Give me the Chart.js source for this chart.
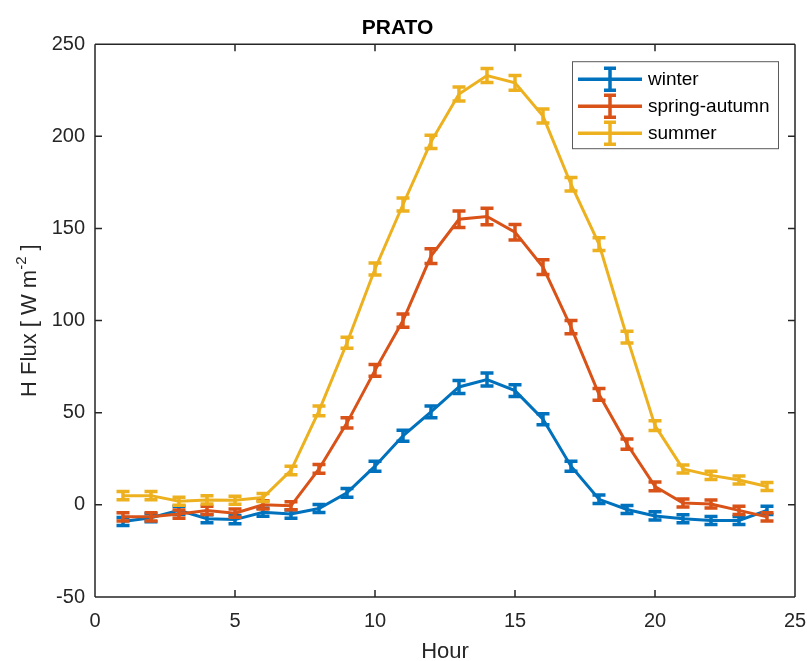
<!DOCTYPE html>
<html>
<head>
<meta charset="utf-8">
<script src="https://cdn.jsdelivr.net/npm/chart.js@4.4.0/dist/chart.umd.min.js"></script>
<style>
  html, body { margin: 0; padding: 0; background: #fff; }
  #wrap { width: 807px; height: 661px; }
</style>
</head>
<body>
<div id="wrap"><canvas id="chart" width="807" height="661"></canvas></div>
<script>
const FONT = '"Liberation Sans", Arial, Helvetica, sans-serif';
const INK = "#262626";

const hours = [1, 2, 3, 4, 5, 6, 7, 8, 9, 10, 11, 12, 13, 14, 15, 16, 17, 18, 19, 20, 21, 22, 23, 24];
const xTicks = [0, 5, 10, 15, 20, 25];
const yTicks = [-50, 0, 50, 100, 150, 200, 250];

const winter = [-9, -7, -3, -7.5, -8, -4, -5, -2, 6.5, 21, 37.5, 50.5, 64, 68, 62, 46.5, 21, 3, -2.5, -6, -7.5, -8.5, -8.5, -3];
const winterErr = [2.2, 2.2, 2.2, 2.2, 2.2, 2.2, 2.2, 2.2, 2.4, 2.7, 3, 3.2, 3.5, 3.5, 3.2, 3, 2.7, 2.3, 2.2, 2.2, 2.2, 2.2, 2.2, 2.2];

const spring = [-6.5, -6.5, -5, -3, -4.5, 0, -0.5, 19.5, 44.5, 73, 100, 135, 155, 156.5, 148, 129, 96.5, 60, 33, 10, 1, 0.5, -3, -6.5];
const springErr = [2.2, 2.2, 2.2, 2.2, 2.2, 2.2, 2.2, 2.4, 2.8, 3.2, 3.6, 4, 4.5, 4.5, 4.2, 4, 3.6, 3.2, 2.8, 2.4, 2.2, 2.2, 2.2, 2.2];

const summer = [5, 5, 2, 2.7, 2.5, 4, 18.7, 51, 88, 128, 163, 197, 223, 233, 229, 211, 174, 141.5, 91, 43, 19.5, 16, 13.5, 10];
const summerErr = [2.2, 2.2, 2.2, 2.2, 2.2, 2.2, 2.3, 2.6, 3, 3.2, 3.5, 3.6, 3.8, 3.8, 4, 3.8, 3.6, 3.5, 3.2, 2.7, 2.2, 2.2, 2.2, 2.2];

const series = [
  { label: "winter", values: winter, errors: winterErr, color: "#0072BD", order: 3 },
  { label: "spring-autumn", values: spring, errors: springErr, color: "#D95319", order: 2 },
  { label: "summer", values: summer, errors: summerErr, color: "#EDB120", order: 1 },
];

// vertical error bars with caps, drawn right after each line so stacking matches
const errorBars = {
  id: "errorBars",
  afterDatasetDraw(chart, args) {
    const ds = chart.data.datasets[args.index];
    const ys = chart.scales.y;
    const ctx = chart.ctx;
    ctx.save();
    ctx.strokeStyle = ds.borderColor;
    ctx.lineWidth = 3.5;
    args.meta.data.forEach((pt, i) => {
      const v = ds.data[i].y;
      const e = ds.errors[i];
      const top = ys.getPixelForValue(v + e);
      const bot = ys.getPixelForValue(v - e);
      ctx.beginPath();
      ctx.moveTo(pt.x, top); ctx.lineTo(pt.x, bot);
      ctx.moveTo(pt.x - 6.5, top); ctx.lineTo(pt.x + 6.5, top);
      ctx.moveTo(pt.x - 6.5, bot); ctx.lineTo(pt.x + 6.5, bot);
      ctx.stroke();
    });
    ctx.restore();
  },
};

// matlab-ish box: frame on all four sides, ticks pointing inward
const boxAxes = {
  id: "boxAxes",
  afterDraw(chart) {
    const { ctx, chartArea: a, scales } = chart;
    ctx.save();
    ctx.strokeStyle = INK;
    ctx.lineWidth = 1.5;
    ctx.beginPath();
    ctx.moveTo(a.left, a.top); ctx.lineTo(a.right, a.top);
    ctx.moveTo(a.left, a.bottom); ctx.lineTo(a.right, a.bottom);
    ctx.moveTo(a.left, a.top); ctx.lineTo(a.left, a.bottom);
    ctx.moveTo(a.right, a.top); ctx.lineTo(a.right, a.bottom);
    const tl = 7;
    scales.x.ticks.forEach((t) => {
      const x = scales.x.getPixelForValue(t.value);
      ctx.moveTo(x, a.bottom); ctx.lineTo(x, a.bottom - tl);
      ctx.moveTo(x, a.top); ctx.lineTo(x, a.top + tl);
    });
    scales.y.ticks.forEach((t) => {
      const y = scales.y.getPixelForValue(t.value);
      ctx.moveTo(a.left, y); ctx.lineTo(a.left + tl, y);
      ctx.moveTo(a.right, y); ctx.lineTo(a.right - tl, y);
    });
    ctx.stroke();

    // y axis title with superscript
    const big = "22px " + FONT;
    const small = "15px " + FONT;
    const p1 = "H Flux [ W m";
    const sup = "-2";
    const p2 = " ]";
    ctx.font = big;
    const w1 = ctx.measureText(p1).width;
    const w3 = ctx.measureText(p2).width;
    ctx.font = small;
    const w2 = ctx.measureText(sup).width;
    const total = w1 + w2 + w3;
    ctx.translate(30, (a.top + a.bottom) / 2);
    ctx.rotate(-Math.PI / 2);
    ctx.fillStyle = INK;
    ctx.textBaseline = "middle";
    ctx.textAlign = "left";
    let x0 = -total / 2;
    ctx.font = big;
    ctx.fillText(p1, x0, 0);
    ctx.font = small;
    ctx.fillText(sup, x0 + w1, -8);
    ctx.font = big;
    ctx.fillText(p2, x0 + w1 + w2, 0);
    ctx.restore();

    // legend box
    ctx.save();
    const lx = a.right - 223, ly = a.top + 17, lw = 206, lh = 87;
    ctx.fillStyle = "#fff";
    ctx.fillRect(lx, ly, lw, lh);
    ctx.strokeStyle = "#5a5a5a";
    ctx.lineWidth = 1;
    ctx.strokeRect(lx + 0.5, ly + 0.5, lw, lh);
    ctx.font = "19px " + FONT;
    ctx.textBaseline = "middle";
    series.forEach((s, i) => {
      const cy = ly + 18 + i * 27;
      ctx.strokeStyle = s.color;
      ctx.lineWidth = 3.5;
      ctx.beginPath();
      ctx.moveTo(lx + 6, cy); ctx.lineTo(lx + 70, cy);
      ctx.moveTo(lx + 38, cy - 11); ctx.lineTo(lx + 38, cy + 11);
      ctx.moveTo(lx + 32, cy - 11); ctx.lineTo(lx + 44, cy - 11);
      ctx.moveTo(lx + 32, cy + 11); ctx.lineTo(lx + 44, cy + 11);
      ctx.stroke();
      ctx.fillStyle = "#000";
      ctx.fillText(s.label, lx + 76, cy + 1);
    });
    ctx.restore();
  },
};

const datasets = series.map((s) => ({
  label: s.label,
  data: hours.map((h, i) => ({ x: h, y: s.values[i] })),
  errors: s.errors,
  borderColor: s.color,
  backgroundColor: s.color,
  borderWidth: 3,
  pointRadius: 0,
  tension: 0,
  order: s.order,
}));

new Chart(document.getElementById("chart"), {
  type: "line",
  data: { datasets },
  plugins: [errorBars, boxAxes],
  options: {
    responsive: false,
    animation: false,
    layout: { padding: { left: 0, right: 12, top: 0, bottom: 0 } },
    plugins: {
      legend: { display: false },
      tooltip: { enabled: false },
      title: {
        display: true,
        text: "PRATO",
        color: "#000",
        font: { family: FONT, size: 21, weight: "bold" },
        padding: { top: 16, bottom: 3 },
      },
    },
    scales: {
      x: {
        type: "linear",
        min: 0,
        max: 25,
        afterBuildTicks: (sc) => { sc.ticks = xTicks.map((v) => ({ value: v })); },
        afterFit: (sc) => { sc.height = 64; sc.paddingLeft = 0; sc.paddingRight = 0; },
        grid: { display: true, drawOnChartArea: false, drawTicks: false },
        border: { display: false },
        ticks: { color: INK, padding: 12, font: { family: FONT, size: 20 } },
        title: { display: true, text: "Hour", color: INK, padding: { top: 0, bottom: -4 }, font: { family: FONT, size: 22 } },
      },
      y: {
        min: -50,
        max: 250,
        afterBuildTicks: (sc) => { sc.ticks = yTicks.map((v) => ({ value: v })); },
        afterFit: (sc) => { sc.width = 95; sc.paddingTop = 0; sc.paddingBottom = 0; },
        grid: { display: true, drawOnChartArea: false, drawTicks: false },
        border: { display: false },
        ticks: { color: INK, padding: 10, font: { family: FONT, size: 20 } },
      },
    },
  },
});
</script>
</body>
</html>
